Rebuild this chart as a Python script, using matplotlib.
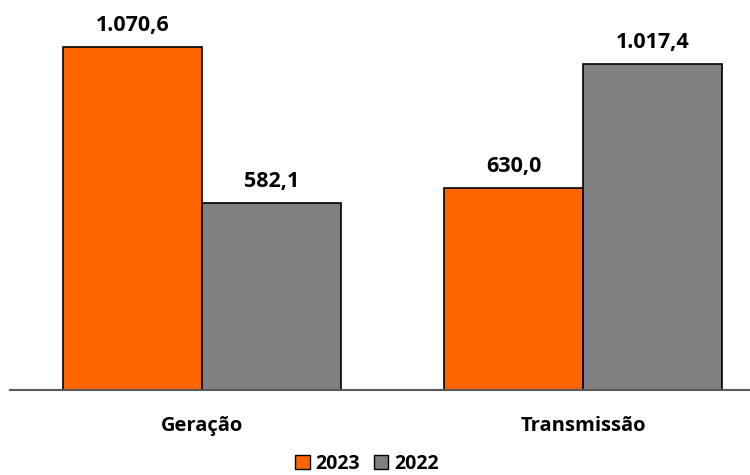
import matplotlib
matplotlib.use("Agg")
import matplotlib.pyplot as plt
import numpy as np
from matplotlib.patches import Patch

categories = ["Geração", "Transmissão"]
years = ["2023", "2022"]
values_2023 = [1070.6, 630.0]
values_2022 = [582.1, 1017.4]
colors = ["#FF6600", "#808080"]

plt.rcParams["font.family"] = ["Open Sans", "DejaVu Sans"]
plt.rcParams["font.weight"] = "bold"


def fmt(v):
    s = f"{v:,.1f}"
    return s.replace(",", "X").replace(".", ",").replace("X", ".")


fig = plt.figure(figsize=(7.5, 4.75), dpi=100)
ax = fig.add_axes([10 / 750, 1 - 390 / 475, 1 - 10 / 750, 390 / 475])

x = np.arange(len(categories))
w = 0.365
series = [values_2023, values_2022]
for i, (vals, c) in enumerate(zip(series, colors)):
    pos = x + (i - 0.5) * w
    bars = ax.bar(pos, vals, width=w, color=c, edgecolor="black", linewidth=1.2, zorder=2)
    for b, v in zip(bars, vals):
        ax.annotate(fmt(v), (b.get_x() + b.get_width() / 2, v), xytext=(0, 8),
                    textcoords="offset points", ha="center", va="bottom",
                    fontsize=15.5, fontweight="bold", color="black")

ax.set_xlim(-0.504, 1.438)
ax.set_ylim(0, 1217)
for s in ["top", "right", "left"]:
    ax.spines[s].set_visible(False)
ax.spines["bottom"].set_color("#595959")
ax.spines["bottom"].set_linewidth(1.5)
ax.set_yticks([])
ax.set_xticks(x)
ax.set_xticklabels(categories, fontsize=14.5, fontweight="bold")
ax.tick_params(axis="x", length=0, pad=19)

handles = [Patch(facecolor=c, edgecolor="black", linewidth=1.0, label=y) for c, y in zip(colors, years)]
fig.legend(handles=handles, loc="center", bbox_to_anchor=(367 / 750, 1 - 464 / 475), ncol=2,
           frameon=False, prop={"size": 14, "weight": "bold"}, handlelength=0.75, handleheight=0.75,
           handletextpad=0.3, columnspacing=0.7, borderaxespad=0)

fig.savefig("out.png", dpi=100)
